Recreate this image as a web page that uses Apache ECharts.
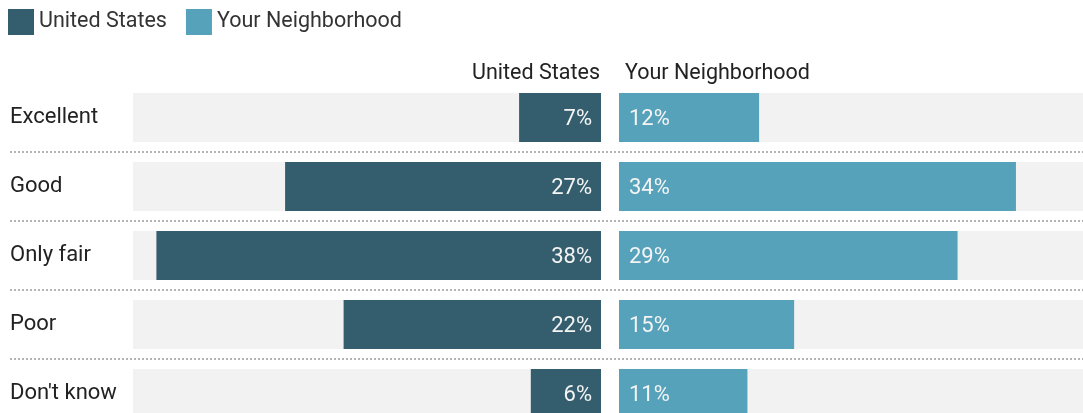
<!DOCTYPE html>
<html>
<head>
<meta charset="UTF-8">
<title>Neighborhood rating</title>
<script src="https://cdn.jsdelivr.net/npm/echarts@6/dist/echarts.min.js"></script>
<style>
  body { margin: 0; background: #fff; }
  #chart { width: 1083px; height: 413px; }
</style>
</head>
<body>
<div id="chart"></div>
<script>
// answers, top to bottom
var categories = ['Excellent', 'Good', 'Only fair', 'Poor', "Don't know"];
var usValues = [7, 27, 38, 22, 6];
var hoodValues = [12, 34, 29, 15, 11];
var seriesNames = ['United States', 'Your Neighborhood'];

var font = 'Roboto';
var darkBlue = '#345e6e';
var lightBlue = '#56a2ba';

var myChart = echarts.init(document.getElementById('chart'));

var option = {
  animation: false,
  textStyle: { fontFamily: font },
  legend: {
    left: 8,
    top: 9,
    padding: 0,
    icon: 'rect',
    itemWidth: 26,
    itemHeight: 26,
    itemGap: 19,
    data: seriesNames,
    textStyle: { fontSize: 21.5, color: '#333', fontFamily: font, padding: [4, 0, 0, 0] }
  },
  title: [
    {
      text: seriesNames[0],
      right: 483,
      top: 63,
      padding: 0,
      textStyle: { fontSize: 21.5, fontWeight: 'normal', color: '#222', fontFamily: font }
    },
    {
      text: seriesNames[1],
      left: 625,
      top: 63,
      padding: 0,
      textStyle: { fontSize: 21.5, fontWeight: 'normal', color: '#222', fontFamily: font }
    }
  ],
  // grids run past the bottom edge, last row is cut off like the original
  grid: [
    { left: 133, right: 482, top: 83, height: 345, outerBoundsMode: 'none' },
    { left: 619, right: -3, top: 83, height: 345, outerBoundsMode: 'none' },
    // full width grid only for labels and dotted separators
    { left: 10, right: 0, top: 83, height: 345, outerBoundsMode: 'none' }
  ],
  xAxis: [
    { type: 'value', gridIndex: 0, min: 0, max: 40, inverse: true, show: false },
    { type: 'value', gridIndex: 1, min: 0, max: 40, show: false },
    { type: 'value', gridIndex: 2, min: 0, max: 40, show: false }
  ],
  yAxis: [
    { type: 'category', gridIndex: 0, data: categories, inverse: true, show: false },
    { type: 'category', gridIndex: 1, data: categories, inverse: true, show: false },
    {
      type: 'category',
      gridIndex: 2,
      data: categories,
      inverse: true,
      axisLine: { show: false },
      axisTick: { show: false },
      axisLabel: {
        inside: true,
        margin: 0,
        fontSize: 22,
        color: '#222',
        fontFamily: font,
        padding: [4, 0, 0, 0]
      },
      splitLine: {
        show: true,
        interval: function (i) { return i > 0; },
        lineStyle: { color: '#b4b4b4', width: 2, type: [2, 2] }
      }
    }
  ],
  series: [
    {
      name: seriesNames[0],
      type: 'bar',
      xAxisIndex: 0,
      yAxisIndex: 0,
      data: usValues,
      barWidth: 49,
      itemStyle: { color: darkBlue },
      showBackground: true,
      backgroundStyle: { color: '#f2f2f2' },
      label: {
        show: true,
        position: 'insideRight',
        distance: 9,
        offset: [0, 2],
        fontSize: 22,
        color: '#f4f4f4',
        fontFamily: font,
        formatter: '{c}%'
      }
    },
    {
      name: seriesNames[1],
      type: 'bar',
      xAxisIndex: 1,
      yAxisIndex: 1,
      data: hoodValues,
      barWidth: 49,
      itemStyle: { color: lightBlue },
      showBackground: true,
      backgroundStyle: { color: '#f2f2f2' },
      label: {
        show: true,
        position: 'insideLeft',
        distance: 10,
        offset: [0, 2],
        fontSize: 22,
        color: '#f4f4f4',
        fontFamily: font,
        formatter: '{c}%'
      }
    }
  ]
};

myChart.setOption(option);
</script>
</body>
</html>
